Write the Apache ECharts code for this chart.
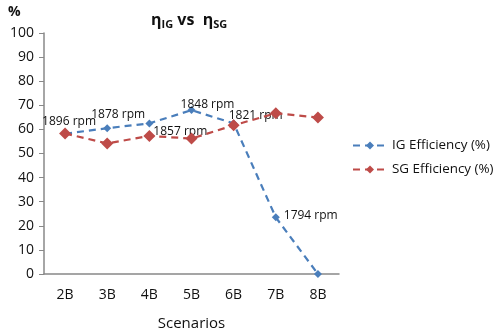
<!DOCTYPE html>
<html>
<head>
<meta charset="utf-8">
<script src="https://cdn.jsdelivr.net/npm/echarts@6/dist/echarts.min.js"></script>
<style>
  html, body { margin: 0; padding: 0; background: #fff; }
  #chart { width: 494px; height: 336px; }
</style>
</head>
<body>
<div id="chart"></div>
<script>
var categories = ['2B', '3B', '4B', '5B', '6B', '7B', '8B'];
var igValues = [58.2, 60.5, 62.5, 68, 62.5, 23.5, 0];
var sgValues = [58.3, 54.2, 57.3, 56.2, 61.7, 66.7, 64.9];
var rpmLabels = ['1896 rpm', '1878 rpm', '1857 rpm', '1848 rpm', '1821 rpm', '1794 rpm', ''];

// where each rpm label sits relative to its point
var labelLayout = [
  { position: 'top', offset: [4, 2] },
  { position: 'top', offset: [11, 0] },
  { position: 'right', offset: [-4, 8] },
  { position: 'top', offset: [16, 8] },
  { position: 'top', offset: [22, 6] },
  { position: 'right', offset: [0, -2] },
  { position: 'top', offset: [0, 0] }
];

var font = '"Open Sans", sans-serif';
var blue = '#4a7ebb';
var red = '#be4b48';

var igData = igValues.map(function (v, i) {
  return {
    value: v,
    label: {
      show: rpmLabels[i] !== '',
      formatter: rpmLabels[i],
      position: labelLayout[i].position,
      offset: labelLayout[i].offset,
      distance: 4,
      color: '#111',
      fontSize: 12,
      fontFamily: font
    }
  };
});

var chart = echarts.init(document.getElementById('chart'), null, { renderer: 'canvas' });

var option = {
  animation: false,
  title: {
    text: '{b|η}{s|IG}{b| vs  η}{s|SG}',
    left: 146,
    top: 6,
    textStyle: {
      rich: {
        b: { fontSize: 16, fontWeight: 'bold', fontFamily: font, color: '#111' },
        s: { fontSize: 11, fontWeight: 'bold', fontFamily: font, color: '#111', padding: [8, 0, 0, 0] }
      }
    }
  },
  graphic: [{
    type: 'text',
    left: 8,
    top: 5,
    style: { text: '%', font: 'bold 14px "Open Sans", sans-serif', fill: '#111' }
  }],
  legend: {
    orient: 'vertical',
    left: 347,
    top: 134,
    itemWidth: 34,
    itemHeight: 10,
    itemGap: 11,
    textStyle: { fontSize: 13.4, fontFamily: font, color: '#111' },
    data: ['IG Efficiency (%)', 'SG Efficiency (%)']
  },
  grid: { left: 44, right: 155, top: 33, bottom: 60 },
  xAxis: {
    type: 'category',
    data: categories,
    boundaryGap: true,
    name: 'Scenarios',
    nameLocation: 'middle',
    nameGap: 42,
    nameTextStyle: { fontSize: 15, fontFamily: font, color: '#111' },
    axisLine: { lineStyle: { color: '#888', width: 1.5 } },
    axisTick: { show: false },
    axisLabel: { fontSize: 14, fontFamily: font, color: '#111', margin: 14 }
  },
  yAxis: {
    type: 'value',
    min: 0,
    max: 100,
    interval: 10,
    splitLine: { show: false },
    axisLine: { show: true, lineStyle: { color: '#888', width: 1.5 } },
    axisTick: { show: true, length: 5, lineStyle: { color: '#888' } },
    axisLabel: { fontSize: 14, fontFamily: font, color: '#111', margin: 10 }
  },
  series: [
    {
      name: 'IG Efficiency (%)',
      type: 'line',
      data: igData,
      symbol: 'diamond',
      symbolSize: 8,
      color: blue,
      lineStyle: { color: blue, width: 2.2, type: [7, 5] },
      itemStyle: { color: blue },
      z: 2
    },
    {
      name: 'SG Efficiency (%)',
      type: 'line',
      data: sgValues,
      symbol: 'diamond',
      symbolSize: 12,
      color: red,
      lineStyle: { color: red, width: 2.2, type: [7, 5] },
      itemStyle: { color: red },
      z: 3
    }
  ]
};

chart.setOption(option);
window.addEventListener('resize', chart.resize);
</script>
</body>
</html>
